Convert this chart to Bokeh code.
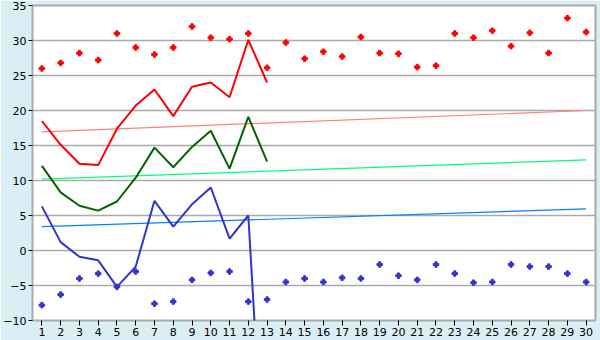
from bokeh.plotting import figure
from bokeh.models import Range1d, FixedTicker
from bokeh.embed import file_html
from bokeh.resources import INLINE

days = list(range(1, 31))
max_points = [26.0, 26.8, 28.2, 27.2, 31.0, 29.0, 28.0, 29.0, 32.0, 30.4,
              30.2, 31.0, 26.1, 29.7, 27.4, 28.4, 27.7, 30.5, 28.2, 28.1,
              26.2, 26.4, 31.0, 30.4, 31.4, 29.2, 31.1, 28.2, 33.2, 31.2]
min_points = [-7.8, -6.3, -4.0, -3.3, -5.2, -3.0, -7.6, -7.3, -4.2, -3.2,
              -3.0, -7.3, -7.0, -4.5, -4.0, -4.5, -3.9, -4.0, -2.0, -3.6,
              -4.2, -2.0, -3.3, -4.6, -4.5, -2.0, -2.3, -2.3, -3.3, -4.5]
line_days = list(range(1, 14))
red_line = [18.5, 15.1, 12.4, 12.2, 17.4, 20.7, 23.0, 19.2, 23.4, 24.0, 21.9, 30.1, 24.0]
green_line = [12.1, 8.3, 6.4, 5.7, 7.0, 10.4, 14.7, 11.9, 14.8, 17.1, 11.7, 19.1, 12.7]
blue_line = [6.3, 1.2, -0.9, -1.4, -5.2, -2.3, 7.1, 3.4, 6.6, 9.0, 1.7, 5.0, -41.0]
trend_days = [1, 30]
red_trend = [16.95, 20.0]
green_trend = [10.2, 12.95]
blue_trend = [3.4, 5.95]
y_ticks = [-10, -5, 0, 5, 10, 15, 20, 25, 30, 35]

p = figure(width=600, height=340, output_backend="svg", toolbar_location=None,
           x_range=Range1d(0.5, 30.5), y_range=Range1d(-10, 35),
           min_border_left=26, min_border_right=5, min_border_top=5, min_border_bottom=20)
p.border_fill_color = "#daeef5"
p.background_fill_color = "white"
p.outline_line_color = "#aaaaaa"
p.outline_line_width = 2

p.xgrid.visible = False
p.ygrid.grid_line_color = "#aaaaaa"
p.ygrid.grid_line_width = 1.5
p.ygrid.ticker = FixedTicker(ticks=y_ticks)

p.yaxis.ticker = FixedTicker(ticks=y_ticks)
p.xaxis.ticker = FixedTicker(ticks=days)
for ax in (p.xaxis, p.yaxis):
    ax.axis_line_color = None
    ax.major_tick_line_color = "black"
    ax.major_tick_in = 0
    ax.minor_tick_line_color = None
    ax.major_label_text_font = "DejaVu Sans"
    ax.major_label_text_font_size = "11px"
    ax.major_label_text_color = "black"
    ax.major_label_standoff = 2
p.yaxis.major_tick_out = 4
p.xaxis.major_tick_out = 5

p.scatter(days, max_points, marker="plus", size=5.5, color="#ff0000")
p.scatter(days, min_points, marker="plus", size=5.5, color="#3333cc")

p.line(trend_days, red_trend, line_color="#ff8080", line_width=1.2)
p.line(trend_days, green_trend, line_color="#00ff80", line_width=1.2)
p.line(trend_days, blue_trend, line_color="#0080ff", line_width=1.2)

p.line(line_days, red_line, line_color="#ff0000", line_width=2)
p.line(line_days, green_line, line_color="#006400", line_width=2)
p.line(line_days, blue_line, line_color="#3333cc", line_width=2)

open("out.html", "w").write(file_html(p, INLINE))
